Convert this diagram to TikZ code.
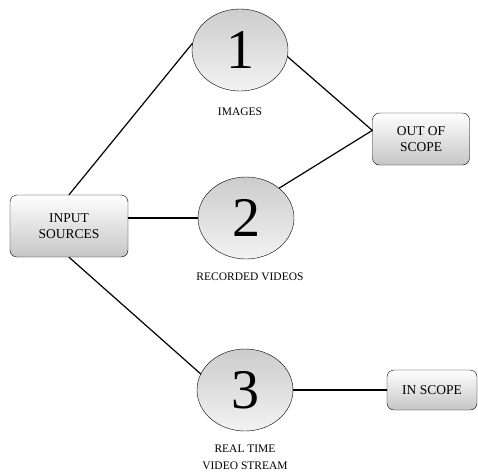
\documentclass[tikz,border=0pt]{standalone}
\usepackage{fontspec}
\setmainfont{Liberation Serif}
\usetikzlibrary{shapes.geometric}

\begin{document}
\begin{tikzpicture}[x=1pt,y=-1pt,
	srcbox/.style={draw, rounded corners=7pt, thin, top color=white, bottom color=gray!45,
		align=center, inner sep=0pt, font=\fontsize{13.5}{15.5}\selectfont},
	numell/.style={ellipse, draw, thin, top color=gray!40, bottom color=gray!10,
		minimum width=96pt, minimum height=82pt, inner sep=0pt, font=\fontsize{56}{56}\selectfont},
	caption/.style={align=center, font=\fontsize{11.5}{17}\selectfont},
	link/.style={line width=1.2pt, line cap=round}]
	\useasboundingbox (0,0) rectangle (478,472);

	% the three numbered ellipses
	\foreach \k/\x/\y in {1/240/50, 2/246/218, 3/245/390}{
		\node[numell] (e\k) at (\x,\y) {\k};
	}
	\node[caption] (lbl1) at (240,112) {IMAGES};
	\node[caption] (lbl2) at (250,277) {RECORDED VIDEOS};
	\node[caption] (lbl3) at (245,457) {REAL TIME\\VIDEO STREAM};

	% boxes
	\node[srcbox, minimum width=118pt, minimum height=62pt] (inp) at (69,226) {INPUT\\SOURCES};
	\node[srcbox, minimum width=97pt, minimum height=52pt] (out) at (421,139) {OUT OF\\SCOPE};
	\node[srcbox, minimum width=90pt, minimum height=40pt] (ins) at (432,390) {IN SCOPE};

	% connections
	\draw[link] (inp.north) -- (e1.172);
	\draw[link] (inp.east |- e2.west) -- (e2.west);
	\draw[link] (inp.south) -- (e3.160);
	\draw[link] (e1.-8) -- (out.170);
	\draw[link] (e2.42) -- (out.170);
	\draw[link] (e3.east) -- (ins.west);
\end{tikzpicture}
\end{document}
